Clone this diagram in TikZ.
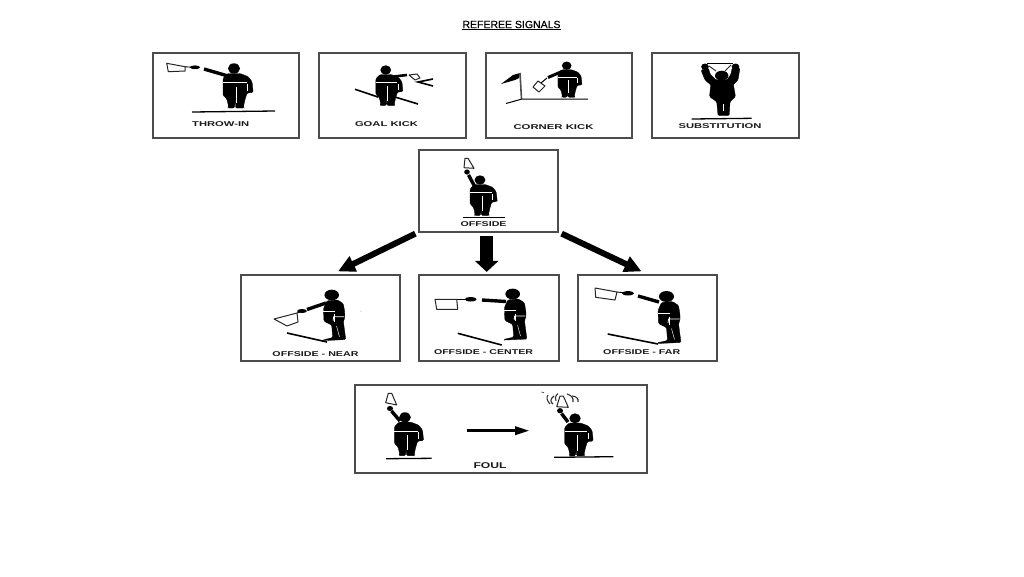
\documentclass[tikz,border=0pt]{standalone}
\usepackage{fontspec}
\usepackage{graphicx}
\setmainfont{Liberation Sans}
\newfontfamily\titlefont[FakeBold=0.5]{Liberation Sans}
\usetikzlibrary{arrows.meta}
\definecolor{framegray}{gray}{0.3}
\tikzset{
  panel/.style={draw=framegray,line width=1.25pt,fill=white,inner sep=0pt,minimum width=#1},
  panel/.default=100pt,
  manfill/.style={fill=black,draw=black,line width=.3pt,rounded corners=1.2pt},
  armline/.style={line width=3.4pt,black},
  staffline/.style={line width=.9pt,black},
  flagbox/.style={draw=black!85,line width=1pt,fill=white,line join=round},
  groundline/.style={draw=black,line width=1.3pt},
  whiteline/.style={draw=white,line width=.45pt},
  bigarrow/.style={draw=black,line width=6pt,-{Triangle[length=17pt,width=16pt]}},
  downarrow/.style={draw=black,line width=12.5pt,-{Triangle[length=11pt,width=23pt]}},
  labeltext/.style={inner sep=0pt,font=\bfseries\fontsize{7}{7}\selectfont,text=black!90},
}
\newcommand{\frontman}[3]{%
  \begin{scope}[shift={(#1,#2)},scale=#3]
    \fill (0,0) ellipse (6 and 5.2);
    \path[manfill] (-6,5) -- (6,5) -- (14,8) -- (18,13) -- (19,22) -- (19,24) -- (13,24.5) -- (12,28) -- (11,31) -- (9.5,38) -- (10,39.5) -- (1.5,39.5) -- (1.5,30) -- (.5,39.5) -- (-6,39.5) -- (-5.5,38) -- (-7,31) -- (-9,28.5) -- (-11,27) -- (-11,10) -- (-8,6.5) -- cycle;
    \draw[whiteline] (-11,14) -- (13,14);
    \draw[whiteline] (2,18) -- (2,34);
    \draw[whiteline] (13.5,15) -- (13.5,22);
  \end{scope}}
\newcommand{\sideman}[3]{%
  \begin{scope}[shift={(#1,#2)},scale=#3]
    \fill (0,0) ellipse (7.5 and 5.5);
    \path[manfill] (-5,6) -- (6,5) -- (12,9) -- (13.5,18) -- (13.5,24) -- (12,27) -- (14.5,46) -- (-8.5,47) -- (-8,46) -- (1,44) -- (0,31) -- (-8,27) -- (-8.5,14) -- cycle;
    \draw[whiteline] (-8.5,17) -- (3,17);
    \draw[whiteline,line width=.8pt] (1.5,26.5) -- (2,22.5) -- (13,22.5);
    \draw[whiteline] (3,20) -- (3,28);
    \draw[whiteline] (5,32) -- (8,43);
  \end{scope}}
\newcommand{\lab}[5]{\node[labeltext] (#1) at (#2,#3) {\resizebox{#4pt}{\height}{#5}};}
\begin{document}
\begin{tikzpicture}[x=1pt,y=-1pt]
\useasboundingbox[fill=white] (0,0) rectangle (1024,576);
\node[inner sep=0pt,font=\titlefont\fontsize{10.5}{12}\selectfont] (title) at (511.5,25.5) {\underline{REFEREE SIGNALS}};

% panels
\node[panel=146pt,minimum height=85pt] (throw) at (226,95.5) {};
\node[panel=147pt,minimum height=85pt] (goal) at (392.5,95.5) {};
\node[panel=146pt,minimum height=85pt] (corner) at (559,95.5) {};
\node[panel=147pt,minimum height=85pt] (subst) at (725.5,95.5) {};
\node[panel=139pt,minimum height=82pt] (offside) at (488.5,191) {};
\node[panel=159pt,minimum height=86pt] (near) at (320.5,318) {};
\node[panel=140pt,minimum height=86pt] (center) at (489,318) {};
\node[panel=139pt,minimum height=86pt] (far) at (647.5,318) {};
\node[panel=292pt,minimum height=88pt] (foul) at (501,429) {};

% labels
\lab{lthrow}{220.7}{123.8}{57}{THROW-IN}
\lab{lgoal}{386.5}{124}{63}{GOAL KICK}
\lab{lcorner}{553.5}{127}{80}{CORNER KICK}
\lab{lsubst}{720}{126.5}{83}{SUBSTITUTION}
\lab{loffside}{483.5}{224}{46}{OFFSIDE}
\lab{lnear}{315.5}{354.3}{86}{OFFSIDE - NEAR}
\lab{lcenter}{483.5}{352}{99}{OFFSIDE - CENTER}
\lab{lfar}{641.7}{352}{77}{OFFSIDE - FAR}
\node[inner sep=0pt,font=\bfseries\fontsize{8.4}{9}\selectfont,text=black!90] (lfoul) at (490,465.6) {\resizebox{33pt}{\height}{FOUL}};

% connectors
\draw[bigarrow] ([shift={(-3,1)}]offside.south west) -- ([shift={(17.5,-3)}]near.north);
\draw[downarrow] ([shift={(-1.8,3.5)}]offside.south) -- ([shift={(-2.3,-2.5)}]center.north);
\draw[bigarrow] ([shift={(3,1)}]offside.south east) -- ([shift={(-6,-3)}]far.north);

% throw-in
\draw[armline] (204,69) -- (228,76);
\draw[staffline] (185,66.8) -- (192,67.2);
\fill (195,67.3) ellipse (5 and 1.9);
\draw[flagbox] (166.7,63.3) -- (185,66.7) -- (185,71) -- (168.3,71.7) -- cycle;
\frontman{234}{68.5}{1}
\draw[groundline] (192,112) -- (275,111);

% goal kick
\draw[groundline,line width=1.6pt] (355,89.3) -- (378,97);
\draw[groundline,line width=1.6pt] (395,97) -- (418,104);
\frontman{385.7}{70}{.9}
\draw[armline,line width=2.6pt] (394,76.5) -- (407,75);
\draw[flagbox] (409,75) -- (417,74) -- (420,78) -- (415,80) -- cycle;
\draw[groundline,line width=1.6pt] (433,79) -- (418,82) -- (433,86);

% corner kick
\frontman{566.7}{65.7}{.8}
\draw[armline,line width=3pt] (562,71.5) -- (548,77.5);
\draw[flagbox] (533,87) -- (538,81) -- (545,86) -- (539,92) -- cycle;
\draw[black,line width=1pt] (547,78) -- (541,83);
\fill (520,73) -- (513,75) -- (501,84) -- (515,80) -- (519,78) -- cycle;
\draw[black!70,line width=1.6pt] (520,73) -- (521.5,99);
\draw[groundline,line width=1pt] (506,103.5) -- (522,99) -- (588,99);

% substitution
\path[manfill] (701,70) -- (705,80) -- (712,86) -- (732,86) -- (738,80) -- (740,68) -- (732,68) -- (731,74) -- (727,80) -- (716,80) -- (710,74) -- (708.5,68) -- cycle;
\fill (705,66.7) ellipse (3.8 and 3.2);
\fill (735.5,66.7) ellipse (3.8 and 3.2);
\fill (721.7,75.7) ellipse (6.7 and 5);
\path[manfill] (711,82) -- (733,82) -- (735.5,96.7) -- (730,101.7) -- (729.3,115.5) -- (718,115.5) -- (716.7,101.7) -- (709.5,96.7) -- cycle;
\draw[whiteline] (723.5,104) -- (723.5,111);
\draw[black!85,line width=.9pt] (709,66) -- (716,71) (731,65) -- (725,71);
\draw[black,line width=1.3pt] (707,63.5) -- (733,63.5);
\draw[groundline] (691.7,119) -- (751.7,118.3);

% offside
\draw[armline] (475,187) -- (468.5,175);
\fill (467,172) ellipse (2.8 and 2.6);
\draw[flagbox] (465,158.3) -- (468,158.3) -- (474,168.3) -- (464,167.7) -- cycle;
\frontman{480}{180}{.9}
\draw[groundline] (463,217.7) -- (505,217.7);

% offside near
\draw[armline] (326,303) -- (307,309.5);
\draw[staffline] (297,313) -- (300,312);
\fill (302,311) ellipse (5 and 2);
\draw[flagbox] (274,319) -- (297,313) -- (298,322) -- (287,326) -- cycle;
\sideman{331.7}{295}{.97}
\draw[groundline,line width=1.6pt] (287,333) -- (327,342);
\fill[black!50] (361,311) circle (.5);

% offside center
\draw[armline] (506,301.5) -- (482,300);
\draw[staffline] (457,299.3) -- (466,299.3);
\fill (470.7,299.3) ellipse (6 and 2.2);
\draw[flagbox] (435,299.3) -- (456.7,299.3) -- (457.7,309.3) -- (436.7,309.3) -- cycle;
\sideman{512.7}{294}{.98}
\draw[groundline,line width=1.6pt] (457.7,333.3) -- (501.7,345);

% offside far
\draw[armline] (659,302) -- (638,296);
\draw[staffline] (617,292) -- (624,292.8);
\fill (628,293.3) ellipse (6 and 2.2);
\draw[flagbox] (595,288) -- (617,292) -- (615,300) -- (595.7,297.3) -- cycle;
\sideman{666.5}{296.5}{1}
\draw[groundline,line width=1.6pt] (607.7,334) -- (658,344);

% foul, first figure
\draw[armline] (400,421) -- (391.5,411);
\fill (390,408.5) ellipse (3 and 2.6);
\draw[flagbox] (388.3,393.3) -- (391.7,393.3) -- (396.7,405) -- (385.7,402.7) -- cycle;
\frontman{405}{417.3}{.97}
\draw[groundline] (386,458.7) -- (431.7,458.3);

% foul, second figure
\draw[armline] (568,422) -- (561.5,413.5);
\fill (560,410.7) ellipse (3 and 2.6);
\draw[flagbox] (560,396) -- (563.3,396) -- (568.3,407.3) -- (556.7,406.7) -- cycle;
\frontman{575}{418.3}{.95}
\draw[groundline] (554,457.3) -- (613.3,456.7);
\draw[black!80,line width=1.1pt] (554,396) .. controls (550,399) and (550,402) .. (553,404);
\draw[black!80,line width=1.1pt] (548,395) .. controls (546,397) and (547,401) .. (550,404);
\draw[black!80,line width=1.1pt] (558,393.5) .. controls (555,396) and (555,399) .. (556,401);
\draw[black!80,line width=1.1pt] (567,394) .. controls (571,395) and (574,398) .. (573,402);
\draw[black!80,line width=1.1pt] (572,396) .. controls (576,396) and (579,399) .. (578,402);
\draw[black!70,line width=.8pt] (541.5,392) -- (544,392.8);

% foul arrow
\coordinate (foulstart) at (466.7,430.7);
\coordinate (foulend) at (530,430.7);
\draw[draw=black,line width=3.4pt,-{Triangle[length=15pt,width=8pt]}] (foulstart) -- (foulend);
\end{tikzpicture}
\end{document}
